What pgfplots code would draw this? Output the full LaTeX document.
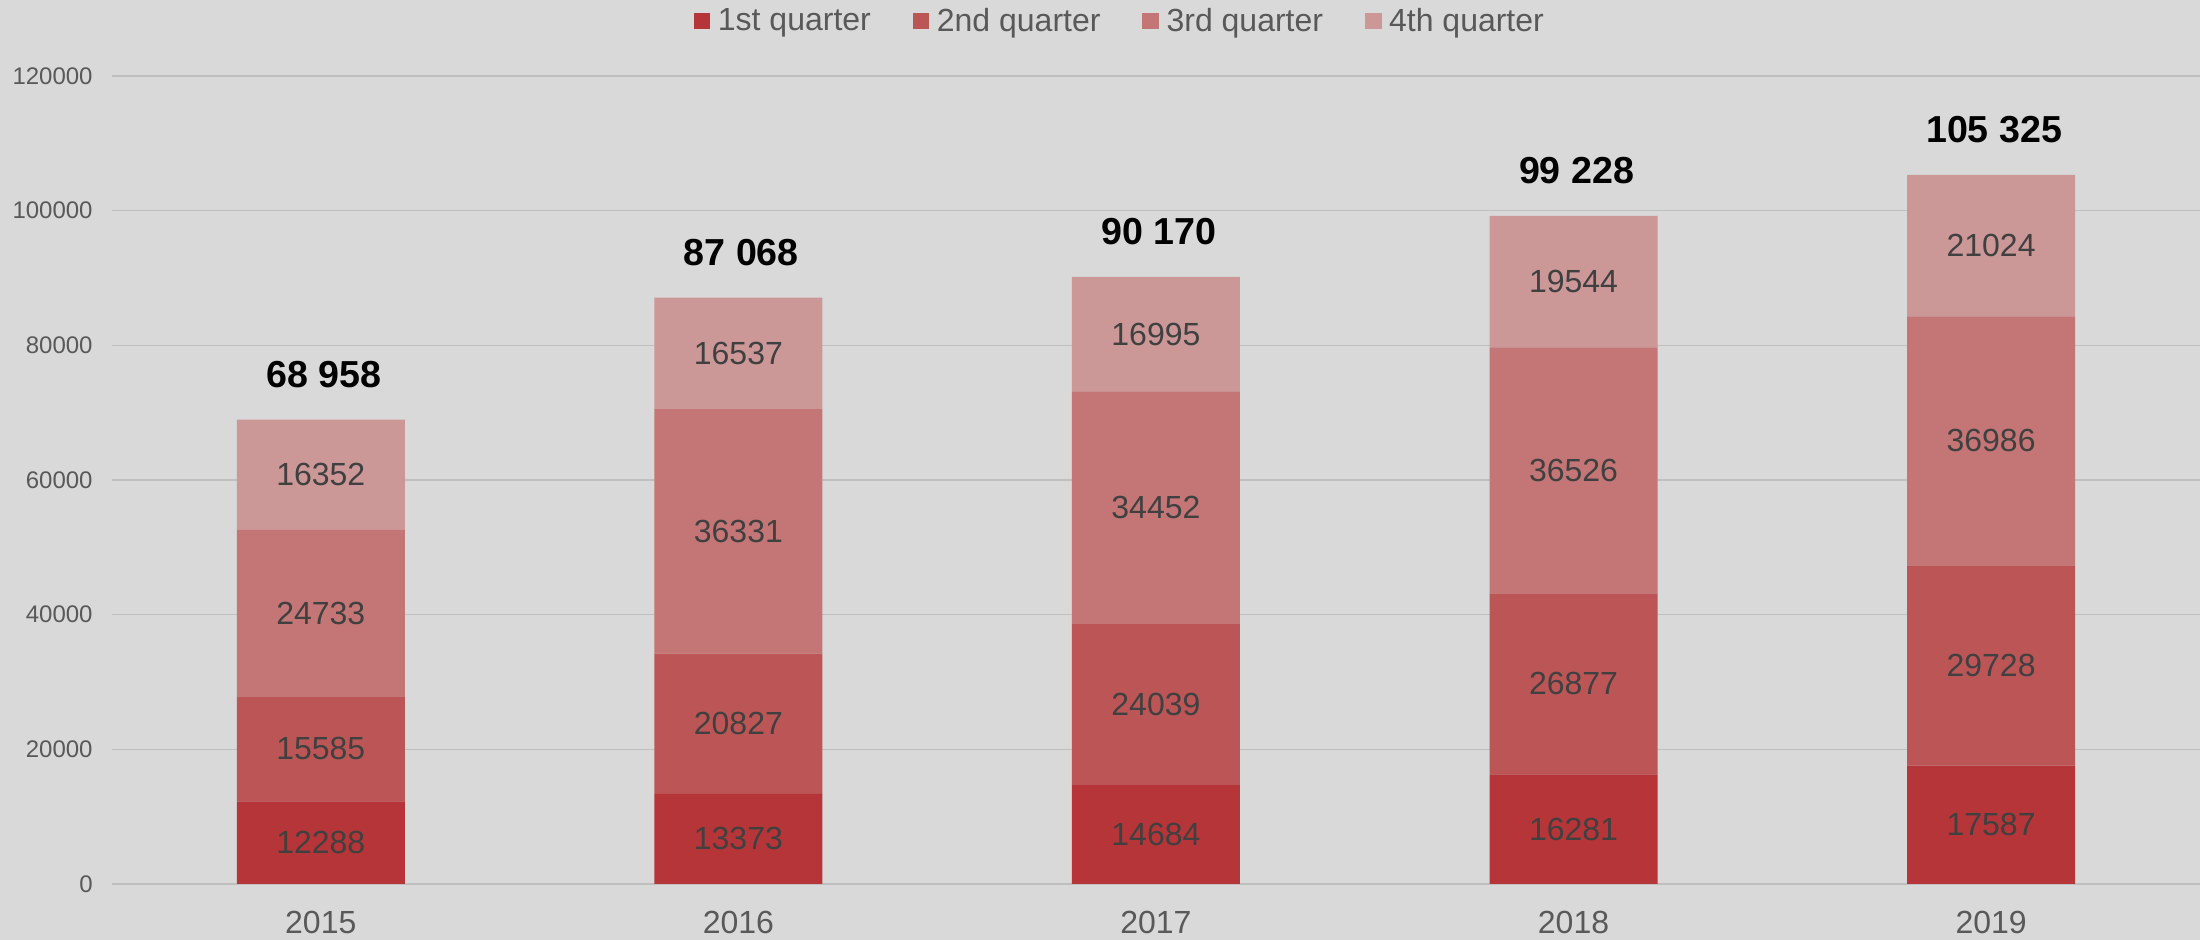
\documentclass[border=0pt]{standalone}
\usepackage{pgfplots}
\pgfplotsset{compat=1.18}
\usepackage{pgfplotstable}
\usepackage{fontspec}
\setmainfont{Liberation Sans}
\definecolor{bg}{HTML}{D9D9D9}
\definecolor{gridc}{HTML}{BFBFBF}
\definecolor{cA}{HTML}{B53538}
\definecolor{cB}{HTML}{BC5656}
\definecolor{cC}{HTML}{C47676}
\definecolor{cD}{HTML}{CB9797}
\definecolor{tickc}{HTML}{595959}
\definecolor{labc}{HTML}{404040}
\pgfplotstableread{
x q1 q2 q3 q4
0 12288 15585 24733 16352
1 13373 20827 36331 16537
2 14684 24039 34452 16995
3 16281 26877 36526 19544
4 17587 29728 36986 21024
}\data
\begin{document}
\begin{tikzpicture}
\fill[bg] (-56pt,-28pt) rectangle (1044pt,442pt);
\begin{axis}[
  width=1044pt, height=404pt, scale only axis,
  xmin=-0.5, xmax=4.5, ymin=0, ymax=120000,
  ybar stacked, bar width=84pt,
  ytick={0,20000,...,120000},
  scaled y ticks=false,
  /pgf/number format/assume math mode=true,
  yticklabel={\pgfmathprintnumber[fixed,precision=0,1000 sep={}]{\tick}},
  xtick=data, xticklabels={2015,2016,2017,2018,2019},
  ymajorgrids, major grid style={draw=gridc, line width=0.75pt},
  axis line style={draw=none}, major tick length=0pt,
  yticklabel style={font=\fontsize{12}{14}\selectfont, text=tickc, anchor=east, inner sep=0pt, xshift=-9.5pt},
  xticklabel style={font=\fontsize{16}{19}\selectfont, text=tickc, anchor=base, inner sep=0pt, yshift=-24.9pt},
  legend style={at={(0.4840,1.068)}, anchor=center, draw=none, fill=none,
    legend columns=4, font=\fontsize{16}{19}\selectfont, text=tickc,
    /tikz/every even column/.append style={column sep=17pt},
    nodes={inner xsep=3.8pt, inner ysep=1pt}},
  legend image code/.code={\fill[#1] (0pt,-4.2pt) rectangle (8.4pt,4.2pt);},
]
\addplot[fill=cA, draw=none] table[x=x,y=q1]{\data};
\addplot[fill=cB, draw=none] table[x=x,y=q2]{\data};
\addplot[fill=cC, draw=none] table[x=x,y=q3]{\data};
\addplot[fill=cD, draw=none] table[x=x,y=q4]{\data};
\legend{1st quarter,2nd quarter,3rd quarter,4th quarter}
\end{axis}
\begin{axis}[
  width=1044pt, height=404pt, scale only axis,
  xmin=-0.5, xmax=4.5, ymin=0, ymax=120000,
  hide axis,
  /pgf/number format/assume math mode=true,
  nodes near coords={\pgfmathprintnumber[fixed,precision=0,1000 sep={},assume math mode=true]{\pgfplotspointmeta}},
  every node near coord/.style={anchor=center, font=\fontsize{16}{19}\selectfont, text=labc},
]
\addplot[draw=none, mark=none, point meta=explicit] table[x=x, y expr=\thisrow{q1}/2, meta=q1]{\data};
\addplot[draw=none, mark=none, point meta=explicit] table[x=x, y expr=\thisrow{q1}+\thisrow{q2}/2, meta=q2]{\data};
\addplot[draw=none, mark=none, point meta=explicit] table[x=x, y expr=\thisrow{q1}+\thisrow{q2}+\thisrow{q3}/2, meta=q3]{\data};
\addplot[draw=none, mark=none, point meta=explicit] table[x=x, y expr=\thisrow{q1}+\thisrow{q2}+\thisrow{q3}+\thisrow{q4}/2, meta=q4]{\data};
\addplot[draw=none, mark=none, point meta=explicit,
  nodes near coords={\pgfmathprintnumber[fixed,precision=0,1000 sep={\ },assume math mode=true]{\pgfplotspointmeta}},
  every node near coord/.style={anchor=center, xshift=1.5pt, yshift=22.5pt, font=\bfseries\fontsize{18.8}{22}\selectfont, text=black}]
  table[x=x, y expr=\thisrow{q1}+\thisrow{q2}+\thisrow{q3}+\thisrow{q4}, meta expr=\thisrow{q1}+\thisrow{q2}+\thisrow{q3}+\thisrow{q4}]{\data};
\end{axis}
\pgfresetboundingbox
\path[use as bounding box] (-56pt,-28pt) rectangle (1044pt,442pt);
\end{tikzpicture}
\end{document}
